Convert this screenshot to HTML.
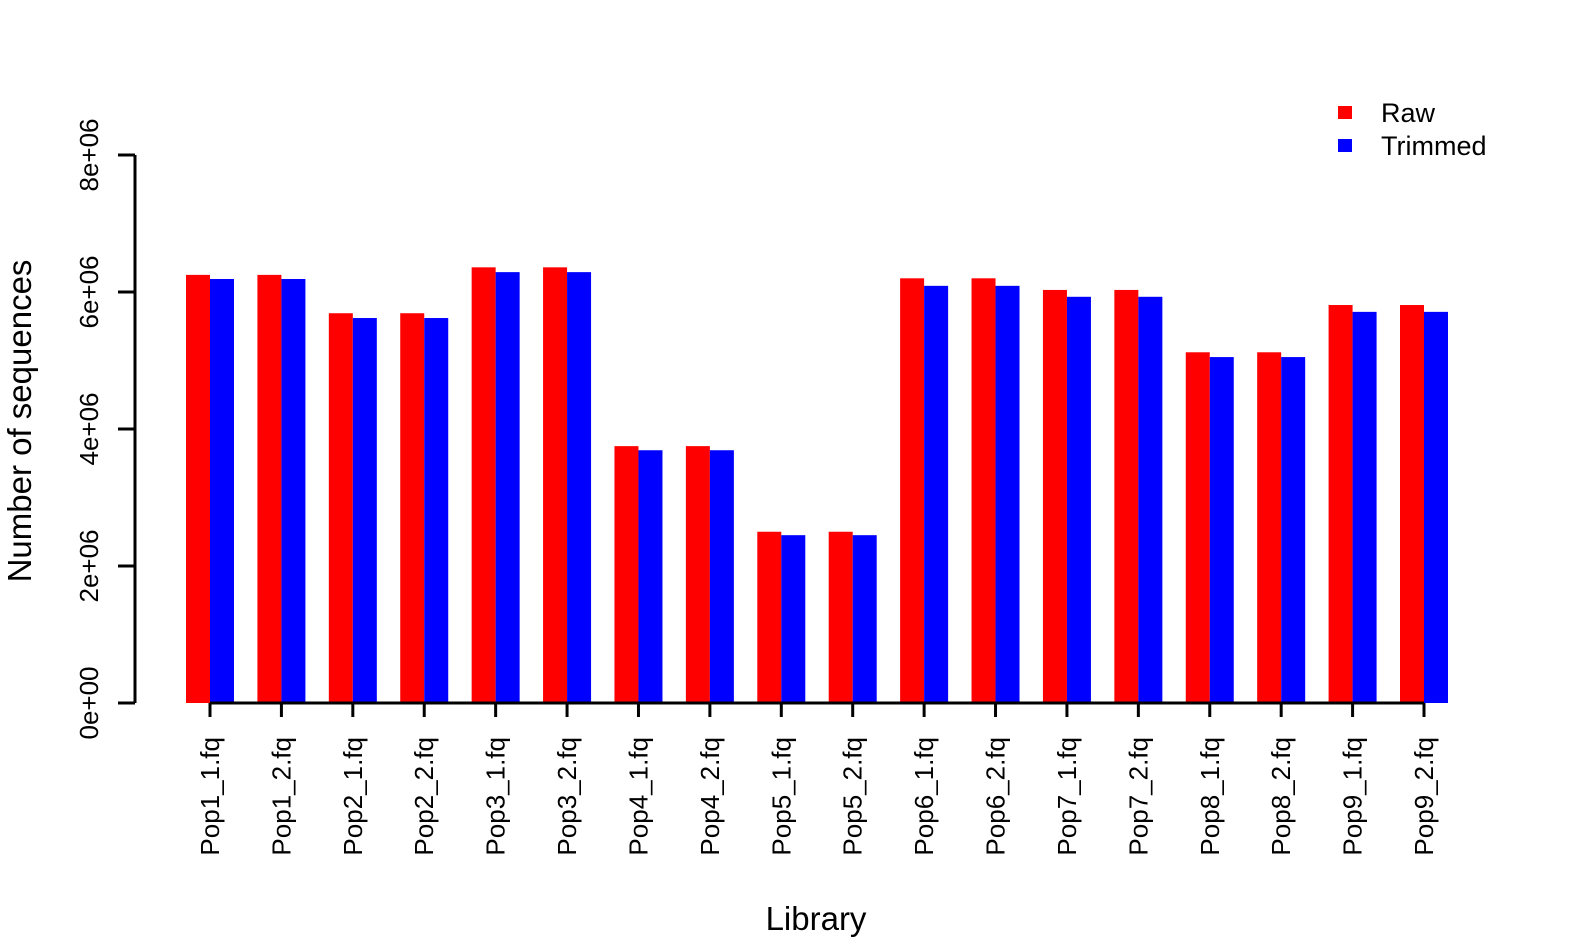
<!DOCTYPE html>
<html><head><meta charset="utf-8"><style>
html,body{margin:0;padding:0;background:#fff;}
svg{display:block;font-family:"Liberation Sans",Arial,sans-serif;}
</style></head><body>
<svg id="chart" width="1574" height="944" viewBox="0 0 1574 944">
<g id="bars"></g>
<g id="axes"></g>
<text x="31" y="421" transform="rotate(-90 31 421)" text-anchor="middle" font-size="33">Number of sequences</text>
<text x="816" y="930" text-anchor="middle" font-size="33">Library</text>
<g>
<rect x="1338" y="106" width="14" height="13" fill="#ff0000"/>
<text x="1381" y="122" font-size="27">Raw</text>
<rect x="1338" y="139" width="14" height="13" fill="#0000ff"/>
<text x="1381" y="155" font-size="27">Trimmed</text>
</g>
</svg>
<script>
const categories=["Pop1_1.fq","Pop1_2.fq","Pop2_1.fq","Pop2_2.fq","Pop3_1.fq","Pop3_2.fq","Pop4_1.fq","Pop4_2.fq","Pop5_1.fq","Pop5_2.fq","Pop6_1.fq","Pop6_2.fq","Pop7_1.fq","Pop7_2.fq","Pop8_1.fq","Pop8_2.fq","Pop9_1.fq","Pop9_2.fq"];
const rawValues=[6.25e6,6.25e6,5.69e6,5.69e6,6.36e6,6.36e6,3.75e6,3.75e6,2.50e6,2.50e6,6.20e6,6.20e6,6.03e6,6.03e6,5.12e6,5.12e6,5.81e6,5.81e6];
const trimmedValues=[6.19e6,6.19e6,5.62e6,5.62e6,6.29e6,6.29e6,3.69e6,3.69e6,2.45e6,2.45e6,6.09e6,6.09e6,5.93e6,5.93e6,5.05e6,5.05e6,5.71e6,5.71e6];
const yTicks=[0,2e6,4e6,6e6,8e6];
const yTickLabels=["0e+00","2e+06","4e+06","6e+06","8e+06"];

const NS="http://www.w3.org/2000/svg";
const y0=703,yTop=155,yMax=8e6;
function yScale(v){return y0-(v/yMax)*(y0-yTop);}
const x0=210,step=(1424-210)/17,bw=24;
function xScale(i){return x0+i*step;}
function mk(tag,attrs,parent){const e=document.createElementNS(NS,tag);for(const k in attrs)e.setAttribute(k,attrs[k]);parent.appendChild(e);return e;}
const bars=document.getElementById('bars'),axes=document.getElementById('axes');
categories.forEach((c,i)=>{
  const cx=xScale(i);
  const r=mk('rect',{x:cx-bw,y:yScale(rawValues[i]),width:bw,height:y0-yScale(rawValues[i]),fill:'#ff0000'},bars);
  
  
  const t=mk('rect',{x:cx,y:yScale(trimmedValues[i]),width:bw,height:y0-yScale(trimmedValues[i]),fill:'#0000ff'},bars);
  
  
  const tk=mk('line',{x1:cx,x2:cx,y1:y0,y2:717,stroke:'#000','stroke-width':3},axes);
  
  
  const lb=mk('text',{x:0,y:0,transform:`translate(${cx+9} 737) rotate(-90)`,'text-anchor':'end','font-size':26},axes);
  lb.textContent=c;
  
  
});
const xl=mk('line',{x1:x0,x2:xScale(17),y1:y0,y2:y0,stroke:'#000','stroke-width':3},axes);


const yl=mk('line',{x1:135,x2:135,y1:yScale(yTicks[0]),y2:yScale(yTicks[yTicks.length-1]),stroke:'#000','stroke-width':3},axes);


yTicks.forEach((v,i)=>{
  const y=yScale(v);
  const tk=mk('line',{x1:118,x2:135,y1:y,y2:y,stroke:'#000','stroke-width':3},axes);
  
  
  const lb=mk('text',{x:0,y:0,transform:`translate(98 ${y}) rotate(-90)`,'text-anchor':'middle','font-size':26},axes);
  lb.textContent=yTickLabels[i];
  
  
});
</script>
</body></html>
